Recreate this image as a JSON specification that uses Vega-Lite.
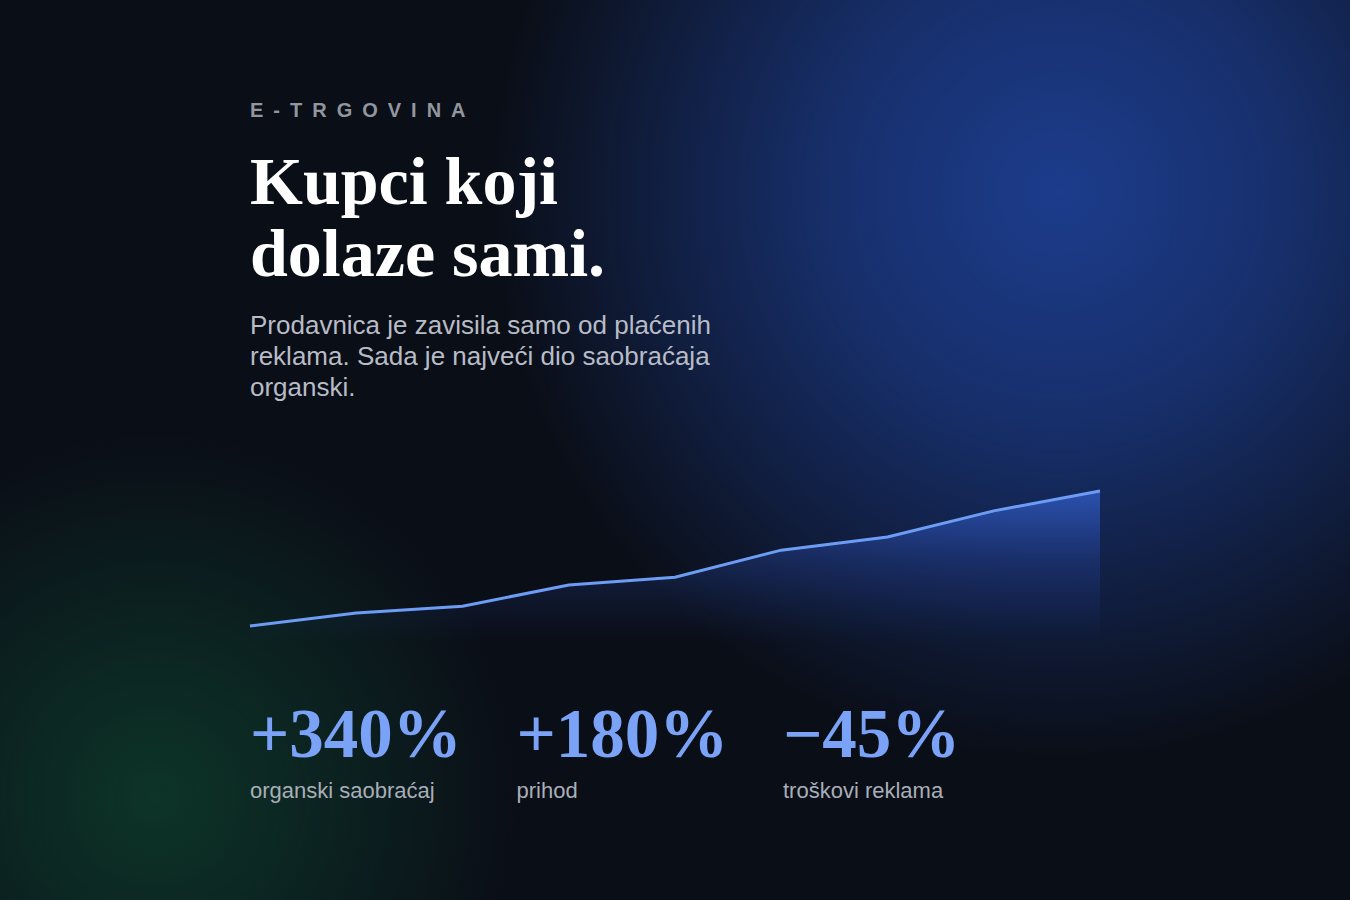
{
  "$schema": "https://vega.github.io/schema/vega-lite/v6.json",
  "width": 1350,
  "height": 900,
  "autosize": {"type": "fit", "contains": "padding"},
  "padding": 0,
  "background": "#0a0e17",
  "config": {"view": {"stroke": null}},
  "datasets": {
    "promet": [
      {"mjesec": 1, "organski": 100},
      {"mjesec": 2, "organski": 133},
      {"mjesec": 3, "organski": 150},
      {"mjesec": 4, "organski": 203},
      {"mjesec": 5, "organski": 223},
      {"mjesec": 6, "organski": 291},
      {"mjesec": 7, "organski": 324},
      {"mjesec": 8, "organski": 390},
      {"mjesec": 9, "organski": 440}
    ],
    "naslov": [
      {
        "nadnaslov": "E-TRGOVINA",
        "naslov": "Kupci koji\ndolaze sami.",
        "opis": "Prodavnica je zavisila samo od plaćenih\nreklama. Sada je najveći dio saobraćaja\norganski."
      }
    ],
    "rezultati": [
      {"redoslijed": 1, "metrika": "organski saobraćaj", "promjena": "+340%"},
      {"redoslijed": 2, "metrika": "prihod", "promjena": "+180%"},
      {"redoslijed": 3, "metrika": "troškovi reklama", "promjena": "−45%"}
    ]
  },
  "resolve": {"scale": {"x": "independent"}},
  "layer": [
    {
      "data": {"values": [{"sjaj": "plavi"}]},
      "mark": {
        "type": "rect",
        "fill": {
          "gradient": "radial",
          "x1": 0.785, "y1": 0.309, "r1": 0,
          "x2": 0.785, "y2": 0.309, "r2": 0.42,
          "stops": [
            {"offset": 0, "color": "rgba(28,60,140,1)"},
            {"offset": 0.4, "color": "rgba(28,60,140,0.72)"},
            {"offset": 0.75, "color": "rgba(28,60,140,0.3)"},
            {"offset": 1, "color": "rgba(28,60,140,0)"}
          ]
        }
      }
    },
    {
      "data": {"values": [{"sjaj": "zeleni"}]},
      "mark": {
        "type": "rect",
        "fill": {
          "gradient": "radial",
          "x1": 0.115, "y1": 0.757, "r1": 0,
          "x2": 0.115, "y2": 0.757, "r2": 0.27,
          "stops": [
            {"offset": 0, "color": "rgba(13,52,40,1)"},
            {"offset": 0.4, "color": "rgba(13,52,40,0.62)"},
            {"offset": 1, "color": "rgba(13,52,40,0)"}
          ]
        }
      }
    },
    {
      "layer": [
        {
          "data": {"name": "promet"},
          "mark": {
            "type": "area",
            "fill": {
              "gradient": "linear",
              "x1": 0, "y1": 0, "x2": 0, "y2": 1,
              "stops": [
                {"offset": 0, "color": "rgba(59,110,230,0.6)"},
                {"offset": 0.45, "color": "rgba(50,90,210,0.25)"},
                {"offset": 1, "color": "rgba(40,70,170,0)"}
              ]
            }
          },
          "encoding": {
            "x": {"field": "mjesec", "type": "quantitative", "scale": {"domain": [-1.35294, 11.35294], "nice": false, "zero": false}, "axis": null},
            "y": {"field": "organski", "type": "quantitative", "scale": {"domain": [-590.06, 1676.6], "nice": false, "zero": false}, "axis": null},
            "y2": {"datum": 60}
          }
        },
        {
          "data": {"name": "promet"},
          "mark": {"type": "line", "color": "#6d9cf5", "strokeWidth": 3},
          "encoding": {
            "x": {"field": "mjesec", "type": "quantitative", "scale": {"domain": [-1.35294, 11.35294], "nice": false, "zero": false}, "axis": null},
            "y": {"field": "organski", "type": "quantitative", "scale": {"domain": [-590.06, 1676.6], "nice": false, "zero": false}, "axis": null}
          }
        },
        {
          "data": {"name": "naslov"},
          "transform": [{"calculate": "join(split(datum.nadnaslov, ''), '\u2002')", "as": "razmaknuto"}],
          "mark": {"type": "text", "align": "left", "baseline": "alphabetic", "font": "Liberation Sans", "fontWeight": "bold", "fontSize": 20, "color": "#92969f"},
          "encoding": {
            "x": {"datum": 1, "type": "quantitative", "scale": {"domain": [-1.35294, 11.35294], "nice": false, "zero": false}, "axis": null},
            "y": {"datum": 1382, "type": "quantitative", "scale": {"domain": [-590.06, 1676.6], "nice": false, "zero": false}, "axis": null},
            "text": {"field": "razmaknuto", "type": "nominal"}
          }
        },
        {
          "data": {"name": "naslov"},
          "mark": {"type": "text", "align": "left", "baseline": "alphabetic", "font": "Liberation Serif", "fontWeight": "bold", "fontSize": 68, "lineHeight": 72, "lineBreak": "\n", "color": "#ffffff"},
          "encoding": {
            "x": {"datum": 1, "type": "quantitative", "scale": {"domain": [-1.35294, 11.35294], "nice": false, "zero": false}, "axis": null},
            "y": {"datum": 1163, "type": "quantitative", "scale": {"domain": [-590.06, 1676.6], "nice": false, "zero": false}, "axis": null},
            "text": {"field": "naslov", "type": "nominal"}
          }
        },
        {
          "data": {"name": "naslov"},
          "mark": {"type": "text", "align": "left", "baseline": "alphabetic", "font": "Liberation Sans", "fontSize": 26, "lineHeight": 31, "lineBreak": "\n", "color": "#b8bcc6"},
          "encoding": {
            "x": {"datum": 1, "type": "quantitative", "scale": {"domain": [-1.35294, 11.35294], "nice": false, "zero": false}, "axis": null},
            "y": {"datum": 835, "type": "quantitative", "scale": {"domain": [-590.06, 1676.6], "nice": false, "zero": false}, "axis": null},
            "text": {"field": "opis", "type": "nominal"}
          }
        }
      ]
    },
    {
      "data": {"name": "rezultati"},
      "layer": [
        {
          "mark": {"type": "text", "align": "left", "baseline": "alphabetic", "font": "Liberation Serif", "fontWeight": "bold", "fontSize": 69, "color": "#7aa2f7"},
          "encoding": {
            "x": {"field": "redoslijed", "type": "quantitative", "scale": {"domain": [0.0619, 5.1276], "nice": false, "zero": false}, "axis": null},
            "y": {"datum": -230, "type": "quantitative", "scale": {"domain": [-590.06, 1676.6], "nice": false, "zero": false}, "axis": null},
            "text": {"field": "promjena", "type": "nominal"}
          }
        },
        {
          "mark": {"type": "text", "align": "left", "baseline": "alphabetic", "font": "Liberation Sans", "fontSize": 22, "color": "#a9aeb8"},
          "encoding": {
            "x": {"field": "redoslijed", "type": "quantitative", "scale": {"domain": [0.0619, 5.1276], "nice": false, "zero": false}, "axis": null},
            "y": {"datum": -333, "type": "quantitative", "scale": {"domain": [-590.06, 1676.6], "nice": false, "zero": false}, "axis": null},
            "text": {"field": "metrika", "type": "nominal"}
          }
        }
      ]
    }
  ]
}
